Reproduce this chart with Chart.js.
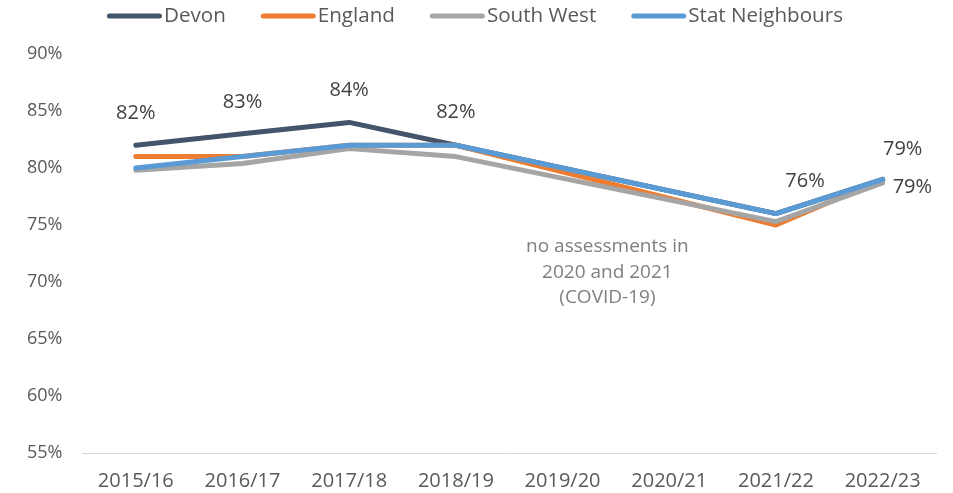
<!DOCTYPE html>
<html lang="en">
<head>
    <meta charset="UTF-8">
    <title>Devon vs comparators</title>
    <script src="https://cdn.jsdelivr.net/npm/chart.js"></script>
    <style>
        html, body { margin: 0; padding: 0; background: #fff; }
        #wrap { width: 953px; height: 493px; }
    </style>
</head>
<body>
<div id="wrap"><canvas id="trendChart"></canvas></div>

<script>
    // years (no assessments in 2019/20 and 2020/21)
    const years = ['2015/16', '2016/17', '2017/18', '2018/19', '2019/20', '2020/21', '2021/22', '2022/23'];

    const devon = [82, 83, 84, 82, null, null, 76, 79];
    const england = [81, 81, 82, 82, null, null, 75, 79];
    const southWest = [79.8, 80.4, 81.7, 81, null, null, 75.3, 78.7];
    const statNeighbours = [80, 81, 82, 82, null, null, 76, 79];

    const yTicks = [55, 60, 65, 70, 75, 80, 85, 90];

    const noteLines = ['no assessments in', '2020 and 2021', '(COVID-19)'];

    const textFont = '"Open Sans", "DejaVu Sans", sans-serif';

    // labels drawn over the points (Devon above, Stat Neighbours beside the last point)
    const labelPlugin = {
        id: 'labels',
        afterDatasetsDraw(chart) {
            const ctx = chart.ctx;
            const x = chart.scales.x, y = chart.scales.y;
            // nudges as placed in the original
            const shiftX = [0, 0, 0, 0, 0, 0, 29, 20];
            const shiftY = [-32, -32, -32, -33, 0, 0, -32, -30];
            ctx.save();
            ctx.font = '20px ' + textFont;
            ctx.fillStyle = '#404040';
            ctx.textAlign = 'center';
            ctx.textBaseline = 'middle';
            devon.forEach((v, i) => {
                if (v == null) return;
                ctx.fillText(v + '%', x.getPixelForValue(i) + shiftX[i], y.getPixelForValue(v) + shiftY[i]);
            });
            const last = years.length - 1;
            ctx.textAlign = 'left';
            ctx.fillText(statNeighbours[last] + '%', x.getPixelForValue(last) + 10, y.getPixelForValue(statNeighbours[last]) + 8);

            // note about the covid gap
            ctx.font = '19px ' + textFont;
            ctx.fillStyle = '#7f7f7f';
            ctx.textAlign = 'center';
            const nx = x.getPixelForValue(4.42);
            const ny = y.getPixelForValue(73.1);
            noteLines.forEach((t, k) => ctx.fillText(t, nx, ny + k * 25.5));
            ctx.restore();
        }
    };

    // line-style legend along the top
    const legendPlugin = {
        id: 'topLegend',
        afterDraw(chart) {
            const ctx = chart.ctx;
            ctx.save();
            ctx.font = '20.6px ' + textFont;
            ctx.textBaseline = 'middle';
            let lx = chart.chartArea.left + 24.5;
            const ly = 16;
            chart.data.datasets.forEach(ds => {
                ctx.strokeStyle = ds.borderColor;
                ctx.lineWidth = 5;
                ctx.lineCap = 'round';
                ctx.beginPath();
                ctx.moveTo(lx + 2.5, ly);
                ctx.lineTo(lx + 52.5, ly);
                ctx.stroke();
                ctx.fillStyle = '#595959';
                const tx = lx + 57;
                ctx.fillText(ds.label, tx, ly);
                lx = tx + ctx.measureText(ds.label).width + 35;
            });
            ctx.restore();
        }
    };

    function series(label, data, color, order) {
        return {
            label: label,
            data: data,
            borderColor: color,
            backgroundColor: color,
            borderWidth: 5,
            pointRadius: 0,
            spanGaps: true,
            borderCapStyle: 'round',
            borderJoinStyle: 'round',
            tension: 0,
            order: order
        };
    }

    new Chart(document.getElementById('trendChart'), {
        type: 'line',
        data: {
            labels: years,
            datasets: [
                series('Devon', devon, '#44546A', 3),
                series('England', england, '#ED7D31', 2),
                series('South West', southWest, '#A5A5A5', 1),
                series('Stat Neighbours', statNeighbours, '#5B9BD5', 0)
            ]
        },
        options: {
            responsive: true,
            maintainAspectRatio: false,
            animation: false,
            layout: { padding: { top: 54, right: 17, left: 7, bottom: -16 } },
            plugins: {
                legend: { display: false },
                tooltip: { enabled: false }
            },
            scales: {
                x: {
                    offset: true,
                    grid: { display: false, drawTicks: false },
                    border: { color: '#D9D9D9', width: 1 },
                    ticks: {
                        color: '#595959',
                        padding: 16,
                        maxRotation: 0,
                        font: { family: textFont, size: 20 }
                    }
                },
                y: {
                    min: 55,
                    max: 90,
                    afterBuildTicks(scale) { scale.ticks = yTicks.map(v => ({ value: v })); },
                    grid: { display: false, drawTicks: false },
                    border: { display: false },
                    ticks: {
                        color: '#595959',
                        padding: 20,
                        font: { family: textFont, size: 18 },
                        callback: v => v + '%'
                    }
                }
            }
        },
        plugins: [labelPlugin, legendPlugin]
    });
</script>
</body>
</html>
